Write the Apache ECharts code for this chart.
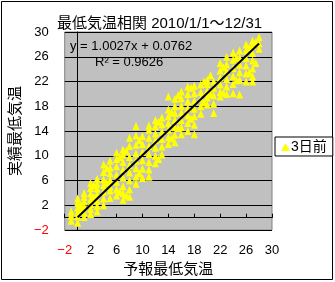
<!DOCTYPE html>
<html><head><meta charset="utf-8">
<script src="https://cdn.jsdelivr.net/npm/echarts@6/dist/echarts.min.js"></script>
<style>html,body{margin:0;padding:0;background:#fff}#c{width:335px;height:282px}</style>
</head><body><div id="c"></div>
<script>
const forecastX = [
-1,-1,-1,
0,0,0,0,0,0,
0.5,0.5,
1,1,1,1,1,1,
2,2,2,2,2,2,2,
2.5,2.5,
3,3,3,3,3,3,3,
4,4,4,4,4,4,4,
4.5,4.5,
5,5,5,5,5,5,5,
6,6,6,6,6,6,6,
6.5,6.5,
7,7,7,7,7,7,7,7,
7.5,7.5,
8,8,8,8,8,8,8,8,
9,9,9,9,9,9,9,9,
9.5,9.5,
10,10,10,10,10,10,
11,11,11,11,11,11,11,11,
12,12,12,12,12,12,12,
12.5,12.5,
13,13,13,13,13,13,
14,14,14,14,14,14,14,
14.5,14.5,
15,15,15,15,15,15,15,
15.5,15.5,
16,16,16,16,16,16,16,
17,17,17,17,17,17,17,
17.5,17.5,
18,18,18,18,18,18,18,
19,19,19,19,19,
19.5,19.5,
20,20,20,20,20,
20.5,20.5,
21,21,21,21,21,
22,22,22,22,22,22,
22.5,22.5,
23,23,23,23,23,23,
24,24,24,24,24,24,
24.5,24.5,
25,25,25,25,25,25,
26,26,26,26,26,26,
26.5,26.5,
27,27,27,27,27,27,27,
27.5,27.5,
28,28,28
];
const observedY = [
-0.5,0.3,1.0,
-0.8,0.2,0.9,1.6,2.4,3.1,
1.2,2.0,
0.1,0.9,1.7,2.6,3.4,4.0,
0.6,1.4,2.2,3.0,3.9,4.8,5.6,
3.3,5.2,
1.0,1.9,2.8,3.8,4.7,5.5,6.3,
2.0,3.1,4.2,5.3,6.2,7.4,8.6,
5.7,8.0,
3.2,4.4,5.0,6.1,7.2,8.1,9.2,
3.6,4.6,5.8,7.0,8.3,9.5,10.5,
9.8,4.2,
2.9,4.0,5.1,6.5,7.8,9.0,10.2,11.0,
3.6,10.8,
3.4,4.6,6.0,7.3,8.5,9.8,11.6,12.9,
5.5,6.6,8.0,9.2,10.4,11.8,13.3,14.8,
12.5,7.2,
6.4,7.9,9.3,10.6,11.9,13.2,
6.6,7.8,9.0,10.3,11.6,12.9,14.2,14.9,
8.8,10.0,11.3,12.5,13.6,14.8,15.8,
15.5,9.5,
10.2,11.5,12.7,13.9,15.1,16.2,
11.9,13.0,14.2,15.3,16.4,17.5,19.6,
17.0,12.8,
12.2,13.4,14.6,15.8,16.9,18.0,19.2,
19.8,14.5,
13.5,14.6,15.8,17.0,18.1,19.3,20.4,
14.0,15.3,16.5,17.7,18.8,20.0,21.2,
21.0,16.0,
13.5,15.0,16.4,17.6,18.9,20.1,21.3,
16.8,18.0,19.2,20.3,21.5,
18.6,22.0,
18.3,19.4,20.5,21.6,22.3,
20.0,23.0,
16.9,18.4,19.8,21.0,22.0,
19.6,20.3,21.5,22.6,23.8,25.0,
20.2,24.3,
20.0,21.2,22.4,23.6,24.8,26.0,
20.1,21.6,22.9,24.2,25.5,26.7,
22.2,25.9,
19.9,22.3,23.5,24.7,25.8,27.0,
22.0,23.3,24.6,25.8,27.0,28.0,
23.4,27.5,
22.0,22.8,24.1,25.4,26.6,27.8,28.6,
25.0,28.4,
27.3,28.2,29.2
];
const trendX = [0, 28];
const trendY = [0.08, 28.15];
const axisTicks = [-2, 2, 6, 10, 14, 18, 22, 26, 30];
const seriesName = '3日前';
const titleText = '最低気温相関 2010/1/1～12/31';
const eqText = 'y = 1.0027x + 0.0762';
const r2Text = 'R² = 0.9626';
const xName = '予報最低気温';
const yName = '実績最低気温';

const FONT = "'Liberation Sans', 'Noto Sans CJK JP', sans-serif";
const pts = forecastX.map((x, i) => [x, observedY[i]]);
const trend = trendX.map((x, i) => [x, trendY[i]]);
const fmt = v => v < 0 ? '{r|−' + Math.abs(v) + '}' : String(v);
const lab = {
  color: '#000', fontSize: 13, fontFamily: FONT, formatter: fmt,
  rich: { r: { color: '#ff0000', fontSize: 13, fontFamily: FONT } }
};

const chart = echarts.init(document.getElementById('c'), null, { renderer: 'canvas' });
chart.setOption({
  animation: false,
  backgroundColor: '#ffffff',
  title: {
    text: titleText, left: 52, top: 11,
    textStyle: { fontSize: 15, fontWeight: 'normal', color: '#000', fontFamily: FONT }
  },
  grid: {
    left: 63, top: 32, width: 209, height: 200,
    show: true, backgroundColor: '#c0c0c0', borderColor: '#808080', borderWidth: 1
  },
  legend: {
    left: 275, top: 137, orient: 'vertical',
    backgroundColor: '#fff', borderColor: '#000', borderWidth: 1,
    padding: [3, 6, 2, 6], itemWidth: 9, itemHeight: 8, itemGap: 2,
    textStyle: { fontSize: 14, color: '#000', fontFamily: FONT, padding: [0, 0, 0, -4] },
    data: [{ name: seriesName, icon: 'triangle' }]
  },
  xAxis: {
    type: 'value', min: axisTicks[0], max: axisTicks[axisTicks.length - 1], interval: 4,
    name: xName, nameLocation: 'middle', nameGap: 30,
    nameTextStyle: { fontSize: 15, color: '#000', fontFamily: FONT },
    axisLine: { show: true, lineStyle: { color: '#000', width: 1 } },
    axisTick: { show: true, inside: true, length: 4, lineStyle: { color: '#000' } },
    splitLine: { show: false },
    axisLabel: Object.assign({ margin: 14 }, lab)
  },
  yAxis: {
    type: 'value', min: axisTicks[0], max: axisTicks[axisTicks.length - 1], interval: 4,
    name: yName, nameLocation: 'middle', nameGap: 38, nameRotate: 90,
    nameTextStyle: { fontSize: 15, color: '#000', fontFamily: FONT },
    axisLine: { show: true, lineStyle: { color: '#000', width: 1 } },
    axisTick: { show: false },
    splitLine: { show: true, lineStyle: { color: '#000', width: 1 } },
    axisLabel: Object.assign({ margin: 16 }, lab)
  },
  series: [
    {
      name: seriesName, type: 'scatter', data: pts,
      symbol: 'triangle', symbolSize: [7, 8],
      itemStyle: { color: '#ffff00', opacity: 1 }
    },
    {
      name: 'trend', type: 'line', data: trend, showSymbol: false, symbol: 'none',
      lineStyle: { color: '#000', width: 2 }, z: 5
    }
  ],
  graphic: [
    { type: 'rect', shape: { x: 1.5, y: 1.5, width: 331, height: 278 },
      style: { fill: 'none', stroke: '#000', lineWidth: 1 }, silent: true },
    { type: 'text', left: 70, top: 40,
      style: { text: eqText, fontSize: 13, fill: '#000', fontFamily: FONT }, z: 10 },
    { type: 'text', left: 95, top: 56,
      style: { text: r2Text, fontSize: 13, fill: '#000', fontFamily: FONT }, z: 10 }
  ]
});
</script></body></html>
